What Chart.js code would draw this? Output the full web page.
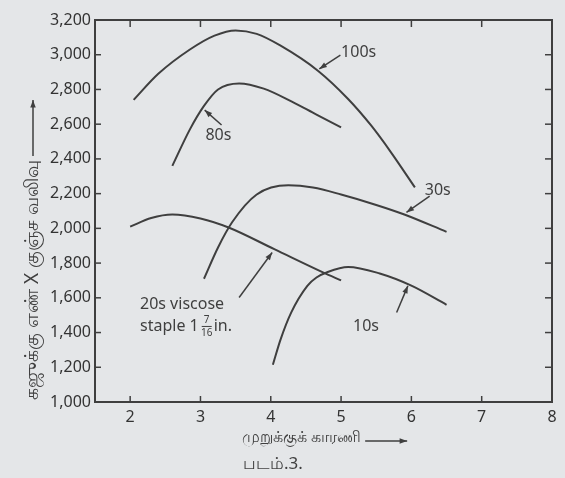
<!DOCTYPE html>
<html>
<head>
<meta charset="utf-8">
<script src="https://cdn.jsdelivr.net/npm/chart.js@4"></script>
<style>
  html, body { margin: 0; padding: 0; background: #e4e6e8; }
  #wrap { width: 565px; height: 478px; }
</style>
</head>
<body>
<div id="wrap"><canvas id="chart"></canvas></div>
<script>
const xTicks = [2, 3, 4, 5, 6, 7, 8];
const yTicks = [1000, 1200, 1400, 1600, 1800, 2000, 2200, 2400, 2600, 2800, 3000, 3200];

const s100x = [2.05, 2.4, 2.85, 3.2, 3.5, 3.8, 4.14, 4.67, 5.1, 5.43, 5.71, 6.05];
const s100y = [2740, 2890, 3030, 3110, 3140, 3120, 3052, 2908, 2745, 2591, 2438, 2236];
const s80x = [2.6, 2.85, 3.05, 3.25, 3.55, 3.9, 4.3, 4.65, 5.0];
const s80y = [2360, 2570, 2705, 2800, 2835, 2805, 2730, 2655, 2582];
const s30x = [3.05, 3.25, 3.45, 3.8, 4.25, 4.6, 5.0, 5.5, 5.9, 6.5];
const s30y = [1710, 1890, 2035, 2195, 2248, 2235, 2195, 2135, 2080, 1980];
const s20x = [2.0, 2.3, 2.6, 3.0, 3.4, 4.05, 4.75, 5.0];
const s20y = [2010, 2060, 2080, 2057, 2005, 1880, 1745, 1700];
const s10x = [4.03, 4.14, 4.29, 4.52, 4.65, 4.81, 5.1, 5.55, 6.0, 6.5];
const s10y = [1215, 1361, 1515, 1669, 1717, 1749, 1778, 1740, 1670, 1560];

// curve labels: text, label x/y, arrow from -> to (data units)
const labels = [
  { text: '100s', x: 5.0, y: 3015, ax: [4.99, 2998, 4.69, 2918] },
  { text: '80s', x: 3.07, y: 2533, ax: [3.30, 2595, 3.06, 2681] },
  { text: '30s', x: 6.19, y: 2216, ax: [6.26, 2186, 5.93, 2092] },
  { text: '10s', x: 5.17, y: 1438, ax: [5.79, 1515, 5.95, 1669] },
  { text: '20s viscose', x: 2.14, y: 1563, ax: [3.55, 1602, 4.02, 1861] }
];

const xTitle = 'முறுக்குக் காரணி';
const yTitle = 'கஜுக்கு எண் X குஞ்ச வலிவு';
const caption = 'படம்.3.';

const ink = '#3f3f3f';
const font = '"Noto Sans", "DejaVu Sans", sans-serif';

function pts(xs, ys) {
  return xs.map((x, i) => ({ x: x, y: ys[i] }));
}

function curve(xs, ys) {
  return {
    data: pts(xs, ys),
    showLine: true,
    borderColor: ink,
    borderWidth: 2,
    pointRadius: 0,
    cubicInterpolationMode: 'monotone'
  };
}

function arrow(ctx, x1, y1, x2, y2) {
  ctx.beginPath();
  ctx.moveTo(x1, y1);
  ctx.lineTo(x2, y2);
  ctx.stroke();
  const a = Math.atan2(y2 - y1, x2 - x1);
  ctx.beginPath();
  ctx.moveTo(x2, y2);
  ctx.lineTo(x2 - 8 * Math.cos(a - 0.35), y2 - 8 * Math.sin(a - 0.35));
  ctx.lineTo(x2 - 8 * Math.cos(a + 0.35), y2 - 8 * Math.sin(a + 0.35));
  ctx.closePath();
  ctx.fill();
}

const extras = {
  id: 'extras',
  afterDraw(chart) {
    const ctx = chart.ctx;
    const xs = chart.scales.x, ys = chart.scales.y;
    const a = chart.chartArea;
    ctx.save();
    ctx.strokeStyle = ink;
    ctx.fillStyle = ink;
    ctx.lineWidth = 2;
    ctx.strokeRect(a.left, a.top, a.right - a.left, a.bottom - a.top);
    ctx.lineWidth = 1.5;
    // inward ticks
    xTicks.forEach(v => {
      const px = xs.getPixelForValue(v);
      if (v < 8) {
        ctx.beginPath(); ctx.moveTo(px, a.bottom); ctx.lineTo(px, a.bottom - 6); ctx.stroke();
        ctx.beginPath(); ctx.moveTo(px, a.top); ctx.lineTo(px, a.top + 7); ctx.stroke();
      }
    });
    yTicks.forEach(v => {
      const py = ys.getPixelForValue(v);
      if (v > 1000 && v < 3200) {
        ctx.beginPath(); ctx.moveTo(a.left, py); ctx.lineTo(a.left + 6, py); ctx.stroke();
        ctx.beginPath(); ctx.moveTo(a.right, py); ctx.lineTo(a.right - 7, py); ctx.stroke();
      }
    });

    // curve labels and arrows
    ctx.font = '16px ' + font;
    ctx.textBaseline = 'middle';
    ctx.textAlign = 'left';
    labels.forEach(l => {
      const lx = xs.getPixelForValue(l.x), ly = ys.getPixelForValue(l.y);
      ctx.fillText(l.text, lx, ly);
      arrow(ctx, xs.getPixelForValue(l.ax[0]), ys.getPixelForValue(l.ax[1]),
        xs.getPixelForValue(l.ax[2]), ys.getPixelForValue(l.ax[3]));
    });
    // second line of the viscose label with 1 7/16 fraction
    const vx = xs.getPixelForValue(2.14), vy = ys.getPixelForValue(1438);
    ctx.fillText('staple 1', vx, vy);
    let w = ctx.measureText('staple 1').width + 2;
    ctx.font = '10px ' + font;
    ctx.textAlign = 'center';
    ctx.fillText('7', vx + w + 6, vy - 6);
    ctx.fillText('16', vx + w + 6, vy + 7);
    ctx.fillRect(vx + w + 1, vy, 10, 1);
    ctx.font = '16px ' + font;
    ctx.textAlign = 'left';
    ctx.fillText('in.', vx + w + 13, vy);

    // x title with arrow
    ctx.font = '16px ' + font;
    ctx.fillText(xTitle, 242, 437);
    const tw = ctx.measureText(xTitle).width;
    arrow(ctx, 242 + tw + 4, 441, 242 + tw + 46, 441);
    // caption
    ctx.font = '17px ' + font;
    ctx.fillText(caption, 243, 464);

    // y title, rotated
    ctx.font = '19px ' + font;
    ctx.translate(33, 400);
    ctx.rotate(-Math.PI / 2);
    ctx.fillText(yTitle, 0, 0);
    const yw = ctx.measureText(yTitle).width;
    arrow(ctx, yw + 4, 0, yw + 60, 0);
    ctx.restore();
  }
};

new Chart(document.getElementById('chart'), {
  type: 'scatter',
  data: {
    datasets: [
      curve(s100x, s100y),
      curve(s80x, s80y),
      curve(s30x, s30y),
      curve(s20x, s20y),
      curve(s10x, s10y)
    ]
  },
  options: {
    responsive: true,
    maintainAspectRatio: false,
    animation: false,
    layout: { padding: { top: 20, right: 13, left: 0, bottom: 0 } },
    plugins: { legend: { display: false }, tooltip: { enabled: false } },
    scales: {
      x: {
        type: 'linear',
        min: 1.5,
        max: 8,
        grid: { display: false, drawTicks: false, tickLength: 0 },
        border: { display: false },
        afterBuildTicks: s => { s.ticks = xTicks.map(v => ({ value: v })); },
        afterFit: s => { s.height = 76; },
        ticks: {
          color: '#333',
          padding: 6,
          font: { size: 16, family: font },
          maxRotation: 0,
          callback: v => v
        }
      },
      y: {
        type: 'linear',
        min: 1000,
        max: 3200,
        grid: { display: false, drawTicks: false, tickLength: 0 },
        border: { display: false },
        afterBuildTicks: s => { s.ticks = yTicks.map(v => ({ value: v })); },
        afterFit: s => { s.width = 95; },
        ticks: {
          color: '#333',
          padding: 4,
          font: { size: 16, family: font },
          callback: v => v.toLocaleString('en-US')
        }
      }
    }
  },
  plugins: [extras]
});
</script>
</body>
</html>
